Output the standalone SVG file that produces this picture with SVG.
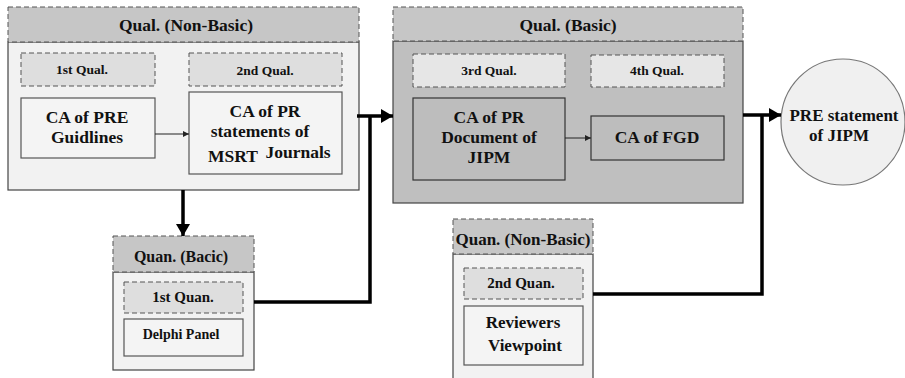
<svg xmlns="http://www.w3.org/2000/svg" width="905" height="378" viewBox="0 0 905 378">
<defs>
<style>
text{font-family:"Liberation Serif","Times New Roman",serif;font-weight:bold;fill:#111;text-anchor:middle}
.hdr{fill:#c6c6c6;stroke:#555;stroke-width:1;stroke-dasharray:5 3}
.lbody{fill:#f2f2f2;stroke:#444;stroke-width:1.2}
.dbody{fill:#bfbfbf;stroke:#444;stroke-width:1.2}
.tag{fill:#dedede;stroke:#555;stroke-width:1;stroke-dasharray:5 3}
.tagl{fill:#e6e6e6;stroke:#555;stroke-width:1;stroke-dasharray:5 3}
.box{fill:#f4f4f4;stroke:#555;stroke-width:1.2}
.dbox{fill:#bdbdbd;stroke:#333;stroke-width:1.2}
.thick{fill:none;stroke:#000;stroke-width:3.5}
.thin{fill:none;stroke:#222;stroke-width:1}
</style>
<marker id="big" viewBox="0 0 12 14" refX="12" refY="7" markerWidth="12" markerHeight="14" markerUnits="userSpaceOnUse" orient="auto">
<path d="M0,0 L12,7 L0,14 Z" fill="#000"/>
</marker>
<marker id="small" viewBox="0 0 6 6" refX="6" refY="3" markerWidth="6" markerHeight="6" markerUnits="userSpaceOnUse" orient="auto">
<path d="M0,0 L6,3 L0,6 Z" fill="#222"/>
</marker>
</defs>

<g id="qual-nonbasic">
<rect class="lbody" x="8" y="42" width="351" height="148"/>
<rect class="hdr" x="8" y="7" width="351" height="35"/>
<text x="186" y="31" font-size="17.5">Qual. (Non-Basic)</text>
</g>
<g id="q1-tag">
<rect class="tag" x="21" y="53" width="134" height="33"/>
<text x="82" y="74" font-size="13.5">1st Qual.</text>
</g>
<g id="q2-tag">
<rect class="tag" x="189" y="53" width="153" height="33"/>
<text x="265" y="75" font-size="13.5">2nd Qual.</text>
</g>
<g id="ca-pre">
<rect class="box" x="21" y="98" width="134" height="60"/>
<text x="87" y="123" font-size="17.5">CA of PRE</text>
<text x="87" y="143" font-size="17.5">Guidlines</text>
</g>
<g id="ca-pr-statements">
<rect class="box" x="189" y="92" width="153" height="82"/>
<text x="265" y="117" font-size="17.5">CA of  PR</text>
<text x="260" y="137" font-size="17.5">statements  of</text>
<text x="233" y="162" font-size="17.5">MSRT</text>
<text x="298" y="158" font-size="17.5">Journals</text>
</g>

<g id="qual-basic">
<rect class="dbody" x="393" y="41" width="350" height="162"/>
<rect class="hdr" x="393" y="7" width="350" height="34"/>
<text x="568" y="31" font-size="17.5">Qual. (Basic)</text>
</g>
<g id="q3-tag">
<rect class="tagl" x="413" y="54" width="152" height="33"/>
<text x="489" y="75" font-size="13.5">3rd Qual.</text>
</g>
<g id="q4-tag">
<rect class="tagl" x="591" y="55" width="133" height="32"/>
<text x="657" y="75" font-size="13.5">4th Qual.</text>
</g>
<g id="ca-pr-document">
<rect class="dbox" x="413" y="98" width="152" height="82"/>
<text x="489" y="123" font-size="17.5">CA of PR</text>
<text x="489" y="143" font-size="17.5">Document of</text>
<text x="489" y="163" font-size="17.5">JIPM</text>
</g>
<g id="ca-fgd">
<rect class="dbox" x="591" y="116" width="133" height="44"/>
<text x="657" y="143" font-size="17.5">CA of FGD</text>
</g>

<g id="pre-statement">
<ellipse cx="843" cy="122" rx="62" ry="63" fill="#f0f0f0" stroke="#777" stroke-width="1.2"/>
<text x="844" y="121" font-size="17">PRE statement</text>
<text x="839" y="141" font-size="17">of JIPM</text>
</g>

<g id="quan-basic">
<rect class="lbody" x="113" y="272" width="141" height="98"/>
<rect class="hdr" x="113" y="236" width="141" height="36"/>
<text x="181" y="262" font-size="16">Quan. (Bacic)</text>
</g>
<g id="quan1-tag">
<rect class="tag" x="124" y="282" width="119" height="31"/>
<text x="183" y="302" font-size="15">1st Quan.</text>
</g>
<g id="delphi">
<rect class="box" x="124" y="319" width="119" height="37"/>
<text x="181" y="339" font-size="14">Delphi Panel</text>
</g>

<g id="quan-nonbasic">
<rect class="lbody" x="453" y="254" width="140" height="130"/>
<rect class="hdr" x="453" y="219" width="140" height="35"/>
<text x="523" y="245" font-size="17">Quan. (Non-Basic)</text>
</g>
<g id="quan2-tag">
<rect class="tag" x="464" y="268" width="119" height="31"/>
<text x="521" y="288" font-size="15">2nd Quan.</text>
</g>
<g id="reviewers">
<rect class="box" x="464" y="306" width="119" height="59"/>
<text x="523" y="328" font-size="17">Reviewers</text>
<text x="525" y="351" font-size="17">Viewpoint</text>
</g>

<g id="connectors">
<line class="thin" x1="155" y1="134" x2="189" y2="134" marker-end="url(#small)"/>
<line class="thin" x1="565" y1="138" x2="591" y2="138" marker-end="url(#small)"/>
<line class="thick" x1="357" y1="116" x2="393" y2="116" marker-end="url(#big)"/>
<line class="thick" x1="183" y1="190" x2="183" y2="236" marker-end="url(#big)"/>
<polyline class="thick" points="254,302 370,302 370,116"/>
<line class="thick" x1="743" y1="115" x2="781" y2="115" marker-end="url(#big)"/>
<polyline class="thick" points="593,294 762,294 762,115"/>
</g>
</svg>
